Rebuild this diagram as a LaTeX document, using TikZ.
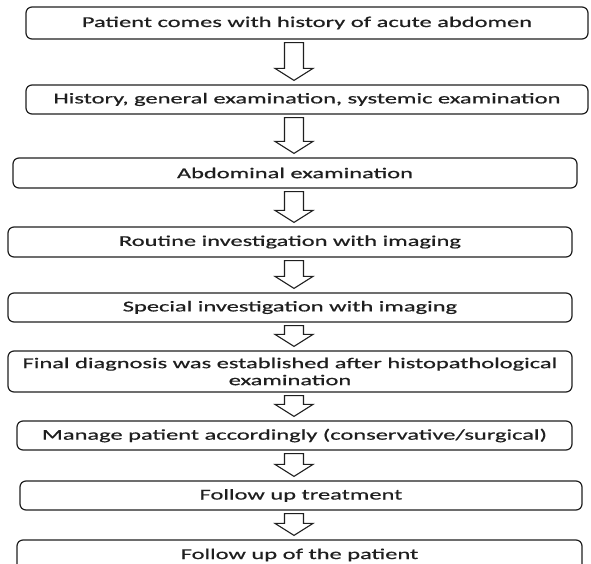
\documentclass[tikz,border=0pt]{standalone}
\usepackage{fontspec}
\setmainfont{Carlito}[FakeStretch=1.63,FakeBold=0.6]
\usetikzlibrary{calc}
\definecolor{boxline}{rgb}{0.12,0.12,0.12}
\newcommand{\flowarrow}[2]{%
	\path (#1.south -| ax) ++(0,3) coordinate (t) (#2.north -| ax) ++(0,-4) coordinate (p) ++(0,-12) coordinate (h);
	\draw [arrowbody] ($(t)+(-9.5,0)$) -- ($(h)+(-9.5,0)$) -- ($(h)+(-19,0)$) -- (p) -- ($(h)+(19,0)$) -- ($(h)+(9.5,0)$) -- ($(t)+(9.5,0)$) -- cycle;}

\begin{document}
\begin{tikzpicture}[x=1pt,y=-1pt,
	box/.style={draw=boxline, line width=1.2pt, rounded corners=6pt, fill=white, inner sep=2pt, align=center, text=boxline, font=\fontsize{15}{17}\selectfont},
	arrowbody/.style={draw=boxline, line width=1.1pt, fill=white}]
			\useasboundingbox (0,0) rectangle (591,564);
			\clip (0,0) rectangle (591,564);
			\coordinate (ax) at (294,0);
			\node [box, minimum width=562pt, minimum height=32pt] (patient) at (307,23) {Patient comes with history of acute abdomen};
			\node [box, minimum width=562pt, minimum height=29pt] (history) at (307,99.5) {History, general examination, systemic examination};
			\node [box, minimum width=564pt, minimum height=30pt] (abdomen) at (295,173) {Abdominal examination};
			\node [box, minimum width=564pt, minimum height=30pt] (routine) at (290,242) {Routine investigation with imaging};
			\node [box, minimum width=564pt, minimum height=29pt] (special) at (290,307.5) {Special investigation with imaging};
			\node [box, minimum width=564pt, minimum height=41pt] (diagnosis) at (290,371.5) {Final diagnosis was established after histopathological\\examination};
			\node [box, minimum width=555pt, minimum height=29pt] (manage) at (294.5,435.5) {Manage patient accordingly (conservative/surgical)};
			\node [box, minimum width=562pt, minimum height=29pt] (treatment) at (301,495.5) {Follow up treatment};
			\node [box, minimum width=565pt, minimum height=30pt] (followup) at (299.5,555) {Follow up of the patient};
			\flowarrow{patient}{history}
			\flowarrow{history}{abdomen}
			\flowarrow{abdomen}{routine}
			\flowarrow{routine}{special}
			\flowarrow{special}{diagnosis}
			\flowarrow{diagnosis}{manage}
			\flowarrow{manage}{treatment}
			\flowarrow{treatment}{followup}
\end{tikzpicture}
\end{document}
